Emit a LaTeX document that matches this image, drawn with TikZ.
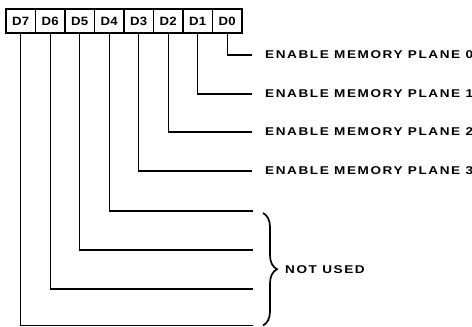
\documentclass[tikz,border=0pt]{standalone}
\usepackage{fontspec}
\newfontfamily\planefont[LetterSpace=14, FakeStretch=1.2]{Liberation Sans}
\newfontfamily\bitfont[LetterSpace=2, FakeStretch=1.1]{Liberation Sans}
\usetikzlibrary{positioning, decorations.pathreplacing}

\begin{document}
\begin{tikzpicture}[x=1pt, y=-1pt,
    bit/.style={draw, line width=1.3pt, minimum width=29.5pt, minimum height=24pt,
        inner sep=0pt, outer sep=0pt, font=\bitfont\bfseries\fontsize{12}{14}\selectfont},
    wire/.style={line width=1.4pt},
    plane/.style={inner sep=0pt, font=\planefont\bfseries\fontsize{11.3}{13}\selectfont},
    curly/.style={decorate, decoration={brace, amplitude=14pt}, line width=1.7pt}]
\useasboundingbox (0,0) rectangle (472,327);

\node[bit] (d7) at (20.75,21) {D7};
\node[bit, right=0pt of d7] (d6) {D6};
\node[bit, right=0pt of d6] (d5) {D5};
\node[bit, right=0pt of d5] (d4) {D4};
\node[bit, right=0pt of d4] (d3) {D3};
\node[bit, right=0pt of d3] (d2) {D2};
\node[bit, right=0pt of d2] (d1) {D1};
\node[bit, right=0pt of d1] (d0) {D0};

\coordinate (e0) at (252,55);
\coordinate (e1) at (252,94);
\coordinate (e2) at (252,132);
\coordinate (e3) at (252,171);
\coordinate (e4) at (253,211);
\coordinate (e5) at (253,250);
\coordinate (e6) at (253,289);
\coordinate (e7) at (253,325.5);

\node[plane, right=13pt of e0] (p0) {ENABLE  MEMORY PLANE 0};
\node[plane, right=13pt of e1] (p1) {ENABLE MEMORY PLANE 1};
\node[plane, right=13pt of e2] (p2) {ENABLE MEMORY PLANE 2};
\node[plane, right=13pt of e3] (p3) {ENABLE MEMORY PLANE 3};

\draw[wire] (d0.south) |- (e0);
\draw[wire] (d1.south) |- (e1);
\draw[wire] (d2.south) |- (e2);
\draw[wire] (d3.south) |- (e3);
\draw[wire] (d4.south) |- (e4);
\draw[wire] (d5.south) |- (e5);
\draw[wire] (d6.south) |- (e6);
\draw[wire] (d7.south) |- (e7);

\coordinate (b0) at (263,213);
\coordinate (b1) at (263,325.5);
\draw[curly] (b0) -- (b1) coordinate[midway] (bm);
\node[plane, right=22pt of bm] (nu) {NOT USED};
\end{tikzpicture}
\end{document}
